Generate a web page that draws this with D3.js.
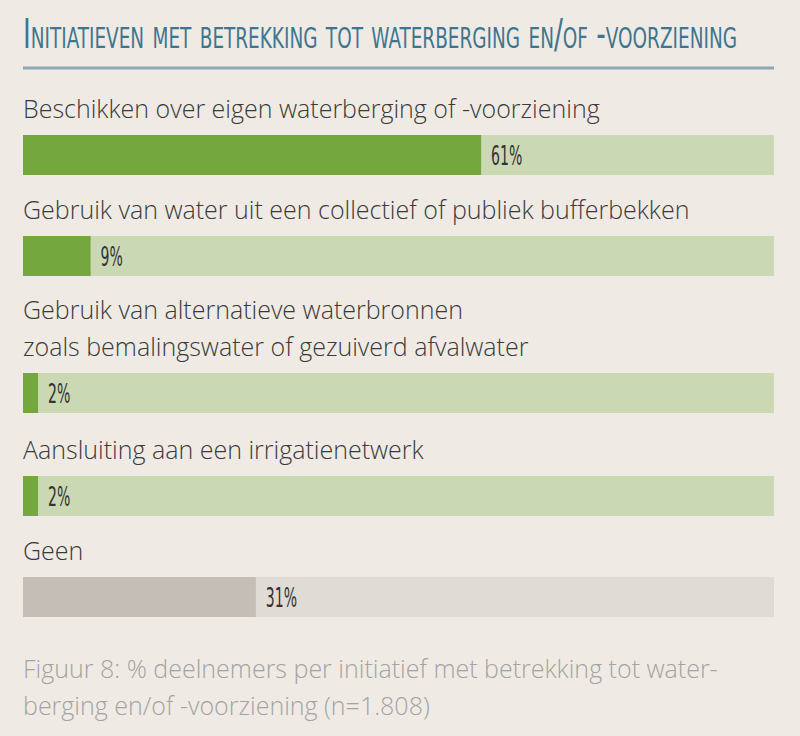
<!DOCTYPE html>
<html><head><meta charset="utf-8">
<script src="https://cdn.jsdelivr.net/npm/d3@7"></script>
<style>body{margin:0;background:#efebe4;}svg{display:block;}</style>
</head><body>
<script>
const categories = [
  ["Beschikken over eigen waterberging of -voorziening"],
  ["Gebruik van water uit een collectief of publiek bufferbekken"],
  ["Gebruik van alternatieve waterbronnen","zoals bemalingswater of gezuiverd afvalwater"],
  ["Aansluiting aan een irrigatienetwerk"],
  ["Geen"]
];
const values = [61, 9, 2, 2, 31];
const valueLabels = ["61%","9%","2%","2%","31%"];
const isNone = [false,false,false,false,true];
const barTops = [135, 236, 373, 476, 577];

const W=800,H=736;
const svg=d3.select("body").append("svg").attr("width",W).attr("height",H);
svg.append("rect").attr("width",W).attr("height",H).attr("fill","#efebe4");

svg.append("text").attr("x",23).attr("y",48)
  .attr("font-family","DejaVu Sans Condensed, Liberation Sans Narrow, sans-serif")
  .attr("font-size",40).attr("fill","#3f7590").style("font-variant","small-caps")
  .attr("textLength",714).attr("lengthAdjust","spacingAndGlyphs")
  .text("Initiatieven met betrekking tot waterberging en/of -voorziening");
svg.append("line").attr("x1",23).attr("x2",774).attr("y1",68).attr("y2",68)
  .attr("stroke","#8aa9b5").attr("stroke-width",3);

const x=d3.scaleLinear().domain([0,100]).range([23,774]);
const bh=40;
const labelFont="Open Sans, sans-serif";
values.forEach((v,i)=>{
  const g=svg.append("g");
  const y=barTops[i];
  categories[i].forEach((line,j)=>{
    g.append("text").attr("x",23).attr("y",y-17-(categories[i].length-1-j)*37)
      .attr("font-family",labelFont).attr("font-weight",300).attr("font-size",25).attr("fill","#3a3a3a")
      .text(line);
  });
  g.append("rect").attr("x",x(0)).attr("y",y).attr("width",x(100)-x(0)).attr("height",bh)
    .attr("fill",isNone[i]?"#e0dbd4":"#cbd8b4");
  g.append("rect").attr("x",x(0)).attr("y",y).attr("width",x(v)-x(0)).attr("height",bh)
    .attr("fill",isNone[i]?"#c4beb6":"#74a73e");
  const lx=x(v)+10;
  g.append("text").attr("x",lx).attr("y",y+30)
    .attr("font-family","DejaVu Sans Condensed, sans-serif").attr("font-size",26).attr("fill","#333")
    .attr("transform",`translate(${lx},0) scale(0.6,1) translate(${-lx},0)`)
    .text(valueLabels[i]);
});

["Figuur 8: % deelnemers per initiatief met betrekking tot water-","berging en/of -voorziening (n=1.808)"].forEach((t,j)=>{
  svg.append("text").attr("x",23).attr("y",678+j*37)
    .attr("font-family",labelFont).attr("font-weight",300).attr("font-size",25).attr("fill","#a3a3a3").text(t);
});
</script>
</body></html>
